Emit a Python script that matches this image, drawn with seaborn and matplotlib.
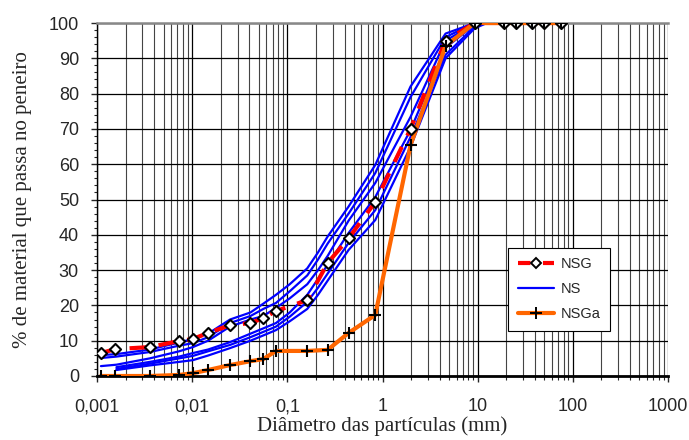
import numpy as np
import pandas as pd
import matplotlib
matplotlib.use("Agg")
import matplotlib.pyplot as plt
from matplotlib.lines import Line2D
from matplotlib.ticker import FixedLocator, FixedFormatter, MultipleLocator, LogLocator, NullFormatter
import seaborn as sns

# ---------------- data ----------------
# NSG (red dashed, diamonds)
nsg_d = [0.0011, 0.00155, 0.0036, 0.0073, 0.0102, 0.0147, 0.025, 0.041, 0.056, 0.076,
         0.162, 0.265, 0.44, 0.84, 1.97, 4.6, 9.3, 19, 25, 37.5, 50, 75]
nsg_p = [6.5, 7.6, 8.2, 9.9, 10.5, 12.2, 14.4, 15.0, 16.4, 18.4,
         21.5, 32.0, 39.0, 49.3, 70.0, 95.0, 100, 100, 100, 100, 100, 100]

# NSGa (orange, plus markers)
nsga_d = [0.0011, 0.00155, 0.0036, 0.0073, 0.0102, 0.0147, 0.025, 0.041, 0.056, 0.076,
          0.162, 0.265, 0.44, 0.84, 1.97, 4.6, 9.3, 19, 25, 37.5, 50, 75]
nsga_p = [0.0, 0.0, 0.0, 0.3, 0.8, 1.7, 3.1, 4.2, 4.8, 7.1,
          7.1, 7.4, 12.2, 17.3, 65.4, 93.5, 100, 100, 100, 100, 100, 100]

# NS (six blue curves, no markers)
ns_d = [0.0011, 0.0016, 0.0036, 0.0073, 0.0102, 0.0147, 0.025, 0.041, 0.056, 0.076,
        0.106, 0.162, 0.21, 0.265, 0.44, 0.84, 1.97, 4.6, 9.3, 12.5]
ns_1 = [5.9, 6.2, 7.5, 9.5, 10.5, 12.0, 16.0, 18.0, 20.5, 23.0, 26.0, 30.5, 35.0, 39.5, 48.0, 59.8, 82.0, 97.0, 100, 100]
ns_2 = [5.1, 5.5, 6.8, 8.6, 9.3, 11.0, 15.0, 17.0, 19.0, 20.7, 24.0, 28.5, 33.0, 37.5, 46.0, 57.5, 79.0, 96.0, 100, 100]
ns_3 = [2.8, 3.2, 5.0, 7.0, 8.2, 10.0, 14.0, 16.0, 17.0, 19.3, 22.0, 26.0, 30.0, 34.0, 44.0, 54.7, 73.4, 95.0, 99.8, 100]
ns_4 = [None, 2.5, 4.0, 5.5, 6.5, 7.5, 9.6, 12.0, 13.5, 15.0, 18.0, 23.0, 27.5, 31.5, 40.5, 50.7, 69.7, 93.0, 99.5, 100]
ns_5 = [None, 2.0, 3.5, 5.0, 5.7, 7.0, 8.8, 11.0, 12.5, 14.0, 16.8, 21.0, 25.0, 29.0, 37.7, 47.0, 67.7, 91.0, 99.0, 100]
ns_6 = [None, 1.7, 3.0, 4.0, 4.5, 5.8, 7.9, 10.0, 11.5, 13.0, 15.5, 19.0, 23.0, 27.0, 35.7, 44.2, 64.9, 90.0, 98.5, 100]

x_ticks = [0.001, 0.01, 0.1, 1, 10, 100, 1000]
x_tick_labels = ["0,001", "0,01", "0,1", "1", "10", "100", "1000"]
y_ticks = [0, 10, 20, 30, 40, 50, 60, 70, 80, 90, 100]

series_labels = ["NSG", "NS", "NSGa"]
x_label = "Diâmetro das partículas (mm)"
y_label = "% de material que passa no peneiro"

# ---------------- frames ----------------
df_nsg = pd.DataFrame({"d": nsg_d, "p": nsg_p})
df_nsga = pd.DataFrame({"d": nsga_d, "p": nsga_p})
ns_rows = []
for i, curve in enumerate([ns_1, ns_2, ns_3, ns_4, ns_5, ns_6]):
    for d, p in zip(ns_d, curve):
        if p is not None:
            ns_rows.append({"d": d, "p": p, "curve": i})
df_ns = pd.DataFrame(ns_rows)

# ---------------- plot ----------------
sns.set_style("white")
plt.rcParams["font.family"] = ["Liberation Sans", "DejaVu Sans"]

fig = plt.figure(figsize=(6.89, 4.40), dpi=100)
ax = fig.add_axes([97 / 689, 1 - 376 / 440, (668 - 97) / 689, (376 - 23) / 440])

blue = "#0000FF"
red = "#FF0000"
orange = "#FF6600"

sns.lineplot(data=df_ns, x="d", y="p", units="curve", estimator=None, sort=False,
             color=blue, linewidth=1.6, ax=ax, legend=False, zorder=3)
sns.lineplot(data=df_nsg, x="d", y="p", sort=False, color=red, linewidth=3.0,
             ax=ax, legend=False, zorder=4)
ax.lines[-1].set_dashes([4, 3])
sns.lineplot(data=df_nsga, x="d", y="p", sort=False, color=orange, linewidth=3.0,
             ax=ax, legend=False, zorder=5)
sns.scatterplot(data=df_nsg, x="d", y="p", marker="D", facecolor="white",
                edgecolor="black", s=32, linewidth=1.5, ax=ax, legend=False, zorder=7)
sns.scatterplot(data=df_nsga, x="d", y="p", marker="+", color="black", s=75,
                linewidth=1.5, ax=ax, legend=False, zorder=8)

ax.set_xscale("log")
ax.set_xlim(0.001, 1000)
ax.set_ylim(0, 100)

ax.xaxis.set_major_locator(FixedLocator(x_ticks))
ax.xaxis.set_major_formatter(FixedFormatter(x_tick_labels))
ax.xaxis.set_minor_locator(LogLocator(base=10, subs=np.arange(2, 10), numticks=20))
ax.xaxis.set_minor_formatter(NullFormatter())
ax.yaxis.set_major_locator(FixedLocator(y_ticks))
ax.yaxis.set_minor_locator(MultipleLocator(2))

ax.grid(True, which="major", axis="both", color="black", linewidth=0.9)
ax.grid(True, which="minor", axis="x", color="#444444", linewidth=0.8)
ax.set_axisbelow(True)

ax.tick_params(axis="x", which="major", direction="out", length=4, width=1,
               pad=12, labelsize=13, bottom=True)
ax.tick_params(axis="x", which="minor", direction="out", length=3, width=0.8, bottom=True)
ax.tick_params(axis="y", which="major", direction="out", length=4, width=1,
               pad=9, labelsize=13, left=True)
ax.tick_params(axis="y", which="minor", direction="out", length=2, width=0.8, left=True)

for s in ["left", "bottom"]:
    ax.spines[s].set_color("black")
ax.spines["bottom"].set_linewidth(2.0)
ax.spines["left"].set_linewidth(1.0)
ax.spines["top"].set_color("#888888")
ax.spines["top"].set_linewidth(1.8)
ax.spines["right"].set_visible(False)

ax.set_xlabel(x_label, family=["Liberation Serif", "DejaVu Serif"], fontsize=15, labelpad=1)
ax.set_ylabel(y_label, family=["Liberation Serif", "DejaVu Serif"], fontsize=15, labelpad=12)

handles = [
    Line2D([], [], color=red, linewidth=3.0, dashes=[3, 3], marker="D",
           markerfacecolor="white", markeredgecolor="black", markersize=5.5, markeredgewidth=1.4),
    Line2D([], [], color=blue, linewidth=1.6),
    Line2D([], [], color=orange, linewidth=3.0, marker="+", markeredgecolor="black",
           markersize=9, markeredgewidth=1.4),
]
leg = ax.legend(handles, series_labels, loc="upper left", bbox_to_anchor=(0.72, 0.363),
                frameon=True, fancybox=False, edgecolor="black", framealpha=1,
                fontsize=10.5, handlelength=2.5, borderpad=0.65, labelspacing=0.75,
                handletextpad=0.45, borderaxespad=0)
leg.get_frame().set_linewidth(0.8)
leg.set_zorder(10)

fig.savefig("out.png", dpi=100)
